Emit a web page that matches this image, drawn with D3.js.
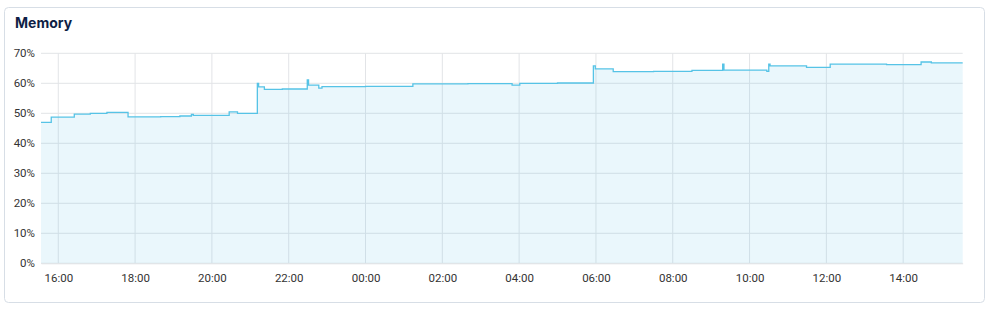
<!DOCTYPE html>
<html>
<head>
<meta charset="utf-8">
<script src="https://cdn.jsdelivr.net/npm/d3@7"></script>
<style>
  body { margin: 0; background: #fff; font-family: Roboto, "Open Sans", sans-serif; }
</style>
</head>
<body>
<svg id="memsvg" width="995" height="310"></svg>
<script>
// memory usage, step changes (time, percent)
const times = [
  "15:33", "15:49", "16:25", "16:50", "17:16", "17:49", "18:40", "19:10",
  "19:28", "19:31", "20:27", "20:40", "21:11", "21:13", "21:22", "21:50",
  "22:29", "22:31", "22:47", "22:52", "00:00", "01:14", "02:40", "03:49",
  "04:01", "05:00", "05:56", "05:59", "06:27", "07:30", "08:30", "09:18",
  "09:20", "10:27", "10:30", "10:32", "11:29", "12:06", "13:34", "14:28",
  "14:44", "15:33"
];
const dayOffset = [
  0, 0, 0, 0, 0, 0, 0, 0,
  0, 0, 0, 0, 0, 0, 0, 0,
  0, 0, 0, 0, 1, 1, 1, 1,
  1, 1, 1, 1, 1, 1, 1, 1,
  1, 1, 1, 1, 1, 1, 1, 1,
  1, 1
];
const memValues = [
  47.0, 48.7, 49.7, 50.0, 50.3, 48.8, 48.9, 49.1,
  49.6, 49.3, 50.5, 50.0, 60.0, 58.8, 58.0, 58.1,
  61.1, 59.4, 58.4, 58.9, 59.0, 59.8, 59.9, 59.4,
  60.0, 60.1, 65.8, 64.8, 63.9, 64.0, 64.3, 66.4,
  64.4, 64.0, 66.4, 65.8, 65.3, 66.4, 66.2, 67.1,
  66.8, 66.8
];
const yTicks = [0, 10, 20, 30, 40, 50, 60, 70];
const xTickHours = [16, 18, 20, 22, 0, 2, 4, 6, 8, 10, 12, 14];

const parseT = d3.timeParse("%Y-%m-%d %H:%M");
const data = times.map((t, i) => ({
  t: parseT((dayOffset[i] ? "2024-01-02 " : "2024-01-01 ") + t),
  v: memValues[i]
}));
const xTicks = xTickHours.map(h => parseT((h >= 15 ? "2024-01-01 " : "2024-01-02 ") + d3.format("02")(h) + ":00"));

const svg = d3.select("#memsvg");

// card
svg.append("rect")
  .attr("x", 4.5).attr("y", 7.5)
  .attr("width", 980).attr("height", 295)
  .attr("rx", 4)
  .attr("fill", "#fff")
  .attr("stroke", "#d7dee6");

svg.append("text")
  .text("Memory")
  .attr("x", 15).attr("y", 28)
  .style("font-family", "Inter, 'Open Sans', sans-serif")
  .style("font-size", "14px")
  .style("font-weight", "700")
  .style("fill", "#0e1e45");

const plotLeft = 41, plotRight = 962.7, plotTop = 53.3, plotBottom = 263.3;

const x = d3.scaleTime()
  .domain([data[0].t, data[data.length - 1].t])
  .range([plotLeft, plotRight]);
const y = d3.scaleLinear()
  .domain([0, 70])
  .range([plotBottom, plotTop]);

// grid
svg.append("g")
  .selectAll("line")
  .data(yTicks)
  .join("line")
  .attr("x1", plotLeft).attr("x2", plotRight)
  .attr("y1", d => y(d)).attr("y2", d => y(d))
  .attr("stroke", "#e2e4e7");
svg.append("g")
  .selectAll("line")
  .data(xTicks)
  .join("line")
  .attr("x1", d => x(d)).attr("x2", d => x(d))
  .attr("y1", plotTop).attr("y2", plotBottom)
  .attr("stroke", "#e2e4e7");

// area + line
const area = d3.area()
  .curve(d3.curveStepAfter)
  .x(d => x(d.t))
  .y0(y(0))
  .y1(d => y(d.v));
const line = d3.line()
  .curve(d3.curveStepAfter)
  .x(d => x(d.t))
  .y(d => y(d.v));

svg.append("path")
  .datum(data)
  .attr("d", area)
  .attr("fill", "#5bc0e6")
  .attr("fill-opacity", 0.13);
svg.append("path")
  .datum(data)
  .attr("d", line)
  .attr("fill", "none")
  .attr("stroke", "#56c3e6")
  .attr("stroke-width", 1.3);

// axes
const yAxis = d3.axisLeft(y)
  .tickValues(yTicks)
  .tickFormat(d => d + "%")
  .tickSize(0)
  .tickPadding(6);
const yg = svg.append("g")
  .attr("transform", `translate(${plotLeft},0)`)
  .call(yAxis);
yg.select(".domain").remove();

const xAxis = d3.axisBottom(x)
  .tickValues(xTicks)
  .tickFormat(d3.timeFormat("%H:%M"))
  .tickSize(0)
  .tickPadding(11);
const xg = svg.append("g")
  .attr("transform", `translate(0,${plotBottom})`)
  .call(xAxis);
xg.select(".domain").attr("stroke", "#e2e4e7");

svg.selectAll(".tick text")
  .style("font-family", "Roboto, sans-serif")
  .style("font-size", "11.5px")
  .style("fill", "#333");
</script>
</body>
</html>
